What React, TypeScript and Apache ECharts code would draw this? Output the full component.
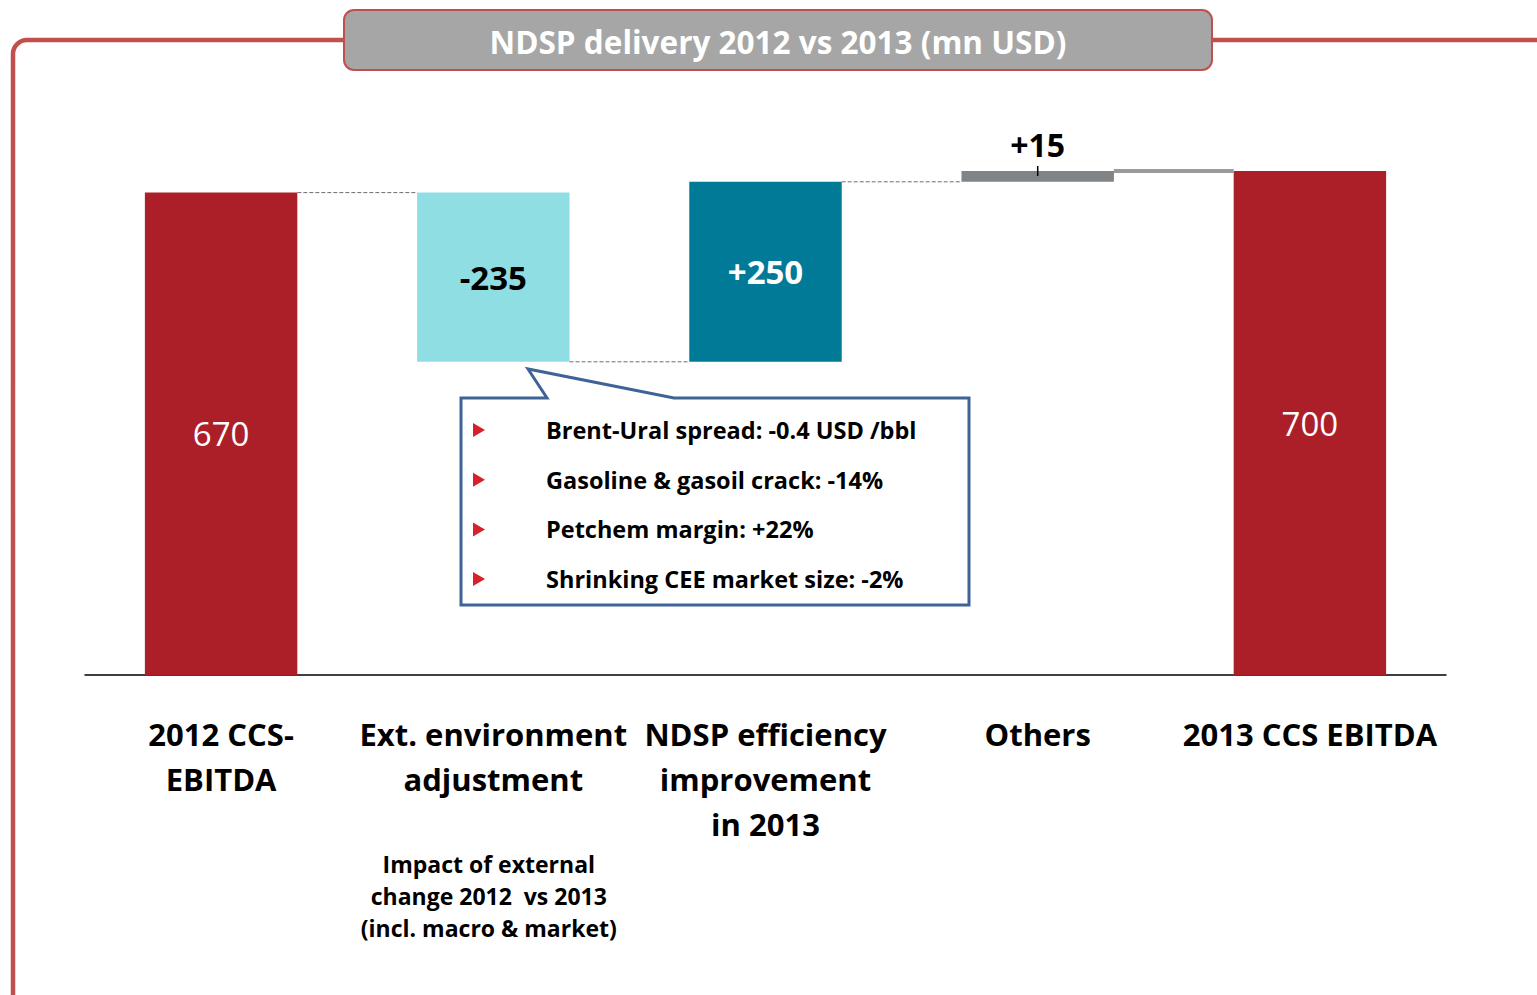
import React, { useEffect, useRef } from "react";
import * as echarts from "echarts";

const chartTitle = "NDSP delivery 2012 vs 2013 (mn USD)";
const categories = [
  "2012 CCS-\nEBITDA",
  "Ext. environment\nadjustment",
  "NDSP efficiency\nimprovement\nin 2013",
  "Others",
  "2013 CCS EBITDA",
];
const startValue = 670;
const deltas = [-235, 250, 15];
const endValue = 700;
const barColors = ["#AD1F28", "#8FDEE3", "#007A96", "#808487", "#AD1F28"];
const subNote = "Impact of external\nchange 2012  vs 2013\n(incl. macro & market)";
const calloutItems = [
  "Brent-Ural spread: -0.4 USD /bbl",
  "Gasoline & gasoil crack: -14%",
  "Petchem margin: +22%",
  "Shrinking CEE market size: -2%",
];

const FONT = "'Open Sans', Lato, sans-serif";

export default function App() {
  const ref = useRef<HTMLDivElement>(null);

  useEffect(() => {
    document.body.style.margin = "0";
    if (!ref.current) return;
    const chart = echarts.init(ref.current, null, { renderer: "svg" });

    // running levels
    const levels: number[] = [startValue];
    deltas.forEach((d) => levels.push(levels[levels.length - 1] + d));
    const baseData: number[] = [0];
    const valueData: any[] = [];
    const labelTexts: string[] = [String(startValue)];
    for (let i = 0; i < deltas.length; i++) {
      baseData.push(Math.min(levels[i], levels[i + 1]));
      labelTexts.push((deltas[i] > 0 ? "+" : "") + deltas[i]);
    }
    baseData.push(0);
    labelTexts.push(String(endValue));
    const heights = [startValue, ...deltas.map((d) => Math.abs(d)), endValue];

    const labelStyles: any[] = [
      { color: "#fff", fontWeight: "normal", position: "inside" },
      { color: "#000", fontWeight: "bold", position: "inside" },
      { color: "#fff", fontWeight: "bold", position: "inside" },
      { color: "#000", fontWeight: "bold", position: "top", distance: 11 },
      { color: "#fff", fontWeight: "normal", position: "inside" },
    ];
    heights.forEach((h, i) => {
      valueData.push({
        value: h,
        itemStyle: { color: barColors[i] },
        label: {
          show: true,
          formatter: labelTexts[i],
          fontSize: i === 3 ? 32 : 33,
          fontFamily: FONT,
          ...labelStyles[i],
        },
      });
    });

    // connector data: [category index, level]
    const connectorData = [
      [0, levels[0]],
      [1, levels[1]],
      [2, levels[2]],
      [3, endValue],
    ];

    const calloutGraphics: any[] = [];
    calloutItems.forEach((t, i) => {
      const cy = 430 + i * 49.7;
      calloutGraphics.push({
        type: "polygon",
        shape: { points: [[473, cy - 7], [485, cy], [473, cy + 7]] },
        style: { fill: "#D7202A" },
        z: 30,
      });
      calloutGraphics.push({
        type: "text",
        x: 546,
        y: cy,
        style: {
          text: t,
          fill: "#000",
          font: `bold 23.5px ${FONT}`,
          verticalAlign: "middle",
        },
        z: 30,
      });
    });

    chart.setOption({
      animation: false,
      textStyle: { fontFamily: FONT },
      grid: { left: 85, right: 91, top: 99, bottom: 320, containLabel: false },
      xAxis: {
        type: "category",
        data: categories,
        axisLine: { show: true, lineStyle: { color: "#000", width: 1.5 } },
        axisTick: { show: false },
        axisLabel: {
          interval: 0,
          margin: 36,
          color: "#000",
          fontSize: 31,
          fontWeight: "bold",
          fontFamily: FONT,
          lineHeight: 45,
          formatter: (v: string, i: number) =>
            i === 1 ? `{c|${v}}\n{gap|}\n{s|${subNote}}` : `{c|${v}}`,
          rich: {
            c: { fontSize: 31, fontWeight: "bold", lineHeight: 45, color: "#000", fontFamily: FONT },
            gap: { lineHeight: 47, fontSize: 10 },
            s: {
              fontSize: 23,
              fontWeight: "bold",
              lineHeight: 32,
              color: "#000",
              fontFamily: FONT,
              padding: [0, 9, 0, 0],
            },
          },
        },
      },
      yAxis: { type: "value", min: 0, max: 800, show: false, splitLine: { show: false } },
      series: [
        {
          type: "bar",
          stack: "wf",
          barWidth: "56%",
          itemStyle: { color: "transparent" },
          data: baseData,
          silent: true,
        },
        {
          type: "bar",
          stack: "wf",
          barWidth: "56%",
          data: valueData,
        },
        {
          type: "custom",
          data: connectorData,
          z: 5,
          renderItem: (params: any, api: any) => {
            const idx = api.value(0);
            const lvl = api.value(1);
            const p = api.coord([idx, lvl]);
            const w = api.size([1, 0])[0];
            const half = w * 0.28;
            const x1 = p[0] + half;
            const x2 = p[0] + w - half;
            if (idx === 3) {
              return {
                type: "group",
                children: [
                  {
                    type: "line",
                    shape: { x1, y1: p[1], x2, y2: p[1] },
                    style: { stroke: "#9A9A9A", lineWidth: 4 },
                  },
                  {
                    type: "line",
                    shape: { x1: p[0], y1: p[1] - 5, x2: p[0], y2: p[1] + 5 },
                    style: { stroke: "#000", lineWidth: 1.5 },
                    z2: 10,
                  },
                ],
              };
            }
            return {
              type: "line",
              shape: { x1, y1: p[1], x2, y2: p[1] },
              style: { stroke: "#6E6E6E", lineWidth: 1, lineDash: [4, 2] },
            };
          },
        },
      ],
      graphic: [
        {
          type: "rect",
          shape: { x: 13, y: 40, width: 1700, height: 1100, r: 14 },
          style: { fill: "none", stroke: "#C0504D", lineWidth: 4.5 },
          z: 1,
        },
        {
          type: "rect",
          shape: { x: 344, y: 10, width: 868, height: 60, r: 10 },
          style: { fill: "#A6A6A6", stroke: "#C0504D", lineWidth: 2 },
          z: 2,
        },
        {
          type: "text",
          x: 778,
          y: 41,
          style: {
            text: chartTitle,
            fill: "#fff",
            font: `bold 31.5px ${FONT}`,
            align: "center",
            verticalAlign: "middle",
          },
          z: 3,
        },
        {
          type: "polygon",
          shape: {
            points: [
              [461, 398],
              [547, 398],
              [528, 369],
              [674, 398],
              [969, 398],
              [969, 605],
              [461, 605],
            ],
          },
          style: { fill: "#fff", stroke: "#3E6396", lineWidth: 3 },
          z: 20,
        },
        ...calloutGraphics,
      ],
    });

    return () => chart.dispose();
  }, []);

  return <div ref={ref} style={{ width: 1537, height: 995 }} />;
}
